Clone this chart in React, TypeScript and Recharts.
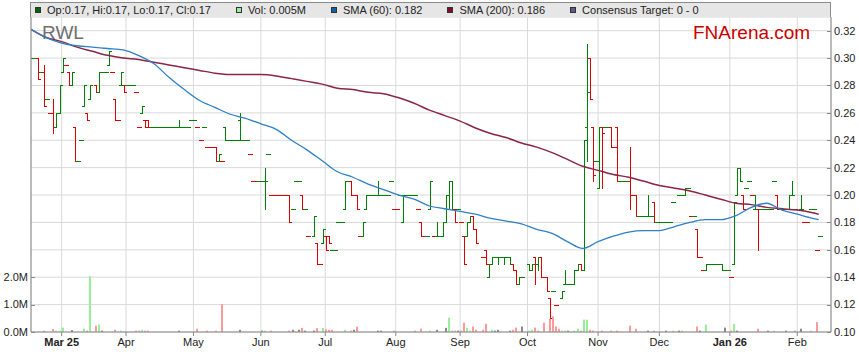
import React from "react";
import { ComposedChart, Bar, Line, XAxis, YAxis, CartesianGrid, Legend } from "recharts";

const FONT = "'Liberation Sans', Arial, sans-serif";
const GREEN = "#008000";
const RED = "#dd0000";

// x = weekday index counted from Mon 17 Feb 2025
const monthTicks = [10, 31, 53, 75, 96, 119, 140, 162, 185, 205, 228, 250];
const monthLabels = ["Mar 25", "Apr", "May", "Jun", "Jul", "Aug", "Sep", "Oct", "Nov", "Dec", "Jan 26", "Feb"];
const priceTicks = [0.1, 0.12, 0.14, 0.16, 0.18, 0.2, 0.22, 0.24, 0.26, 0.28, 0.3, 0.32];
const volTicks = [0, 1, 2];

// [day, open, high, low, close, direction]
const ohlcBars = [
  [2, .30, .30, .285, .285, -1], [4, .29, .295, .265, .265, -1], [7, .26, .27, .245, .25, -1],
  [8, .25, .26, .25, .26, 1], [9, .26, .28, .26, .28, 1], [10, .29, .30, .29, .30, 1],
  [12, .29, .29, .28, .28, -1], [13, .28, .29, .28, .29, 1], [14, .25, .25, .225, .225, -1],
  [17, .265, .28, .265, .28, 1], [18, .26, .26, .255, .255, -1], [19, .27, .28, .27, .28, 1],
  [21, .28, .28, .275, .275, -1], [22, .275, .29, .275, .29, 1], [25, .295, .305, .295, .305, 1],
  [27, .27, .27, .255, .255, -1], [29, .28, .29, .28, .29, 1], [30, .28, .28, .275, .275, -1],
  [36, .26, .265, .26, .265, 1], [37, .255, .255, .25, .25, -1], [38, .255, .255, .25, .25, -1],
  [48, .25, .255, .25, .25, 1], [60, .235, .235, .225, .225, -1], [61, .225, .23, .225, .23, 1],
  [63, .25, .25, .24, .24, 1], [68, .255, .26, .24, .24, 1], [76, .21, .22, .19, .21, 1],
  [84, .20, .20, .18, .18, -1], [88, .20, .20, .19, .19, -1], [92, .17, .185, .17, .185, 1],
  [93, .165, .165, .15, .15, -1], [95, .165, .175, .165, .175, 1], [96, .17, .17, .16, .16, -1],
  [97, .17, .17, .165, .165, -1], [102, .19, .21, .19, .21, 1], [104, .21, .21, .20, .20, -1],
  [106, .20, .20, .19, .19, -1], [108, .17, .18, .17, .18, 1], [109, .19, .20, .19, .20, 1],
  [113, .20, .21, .20, .20, 1], [121, .18, .20, .18, .20, 1], [127, .18, .18, .17, .17, -1],
  [130, .19, .21, .19, .21, 1], [132, .17, .18, .17, .17, 1], [134, .17, .18, .17, .18, 1],
  [135, .18, .20, .18, .20, 1], [136, .19, .21, .19, .21, 1], [137, .21, .21, .19, .19, 1],
  [138, .19, .19, .18, .18, -1], [141, .17, .17, .15, .15, -1], [142, .17, .18, .17, .18, 1],
  [143, .18, .185, .18, .185, 1], [144, .185, .185, .175, .175, -1], [145, .175, .175, .165, .165, -1],
  [148, .16, .16, .15, .15, -1], [149, .14, .15, .14, .15, 1], [150, .15, .155, .15, .155, 1],
  [152, .155, .155, .15, .155, 1], [154, .155, .155, .15, .155, 1], [156, .155, .155, .15, .15, 1],
  [157, .15, .15, .145, .145, -1], [158, .145, .145, .135, .135, -1], [159, .135, .14, .135, .14, 1],
  [162, .15, .15, .145, .145, 1], [163, .145, .15, .145, .15, 1], [164, .155, .155, .135, .15, -1],
  [165, .15, .155, .145, .155, 1], [166, .155, .155, .14, .14, -1], [168, .14, .14, .13, .13, -1],
  [169, .125, .125, .11, .11, -1], [173, .125, .13, .125, .13, 1], [174, .135, .145, .135, .135, 1],
  [177, .135, .145, .135, .145, 1], [178, .145, .15, .145, .15, 1], [179, .15, .15, .145, .145, -1],
  [180, .145, .24, .145, .24, 1], [181, .25, .31, .225, .275, 1], [182, .30, .30, .27, .27, -1],
  [183, .25, .25, .21, .215, -1], [185, .205, .25, .205, .25, 1], [186, .25, .25, .205, .245, -1],
  [189, .25, .25, .235, .235, -1], [191, .25, .25, .21, .21, -1], [195, .21, .235, .19, .20, -1],
  [197, .20, .20, .185, .185, -1], [201, .185, .20, .185, .185, 1], [203, .195, .195, .18, .18, -1],
  [213, .20, .205, .20, .205, 1], [217, .175, .175, .155, .155, -1], [220, .145, .15, .145, .15, 1],
  [225, .15, .15, .145, .145, 1], [229, .15, .195, .15, .195, 1], [230, .20, .22, .20, .22, 1],
  [231, .22, .22, .21, .21, 1], [232, .20, .20, .19, .19, -1], [236, .19, .20, .19, .19, 1],
  [237, .19, .19, .16, .19, -1], [243, .20, .20, .19, .19, -1], [247, .19, .20, .19, .20, 1],
  [248, .20, .21, .20, .20, 1], [251, .19, .20, .19, .19, 1],
];

// days that traded at one price: [day, price, direction]
const flatBars = [
  [0, .30, 1], [1, .30, 1], [3, .29, 1], [5, .27, 1], [6, .26, -1], [11, .295, -1], [15, .225, 1],
  [16, .24, 1], [23, .29, 1], [24, .29, 1], [26, .29, -1], [28, .255, -1], [31, .28, 1], [32, .28, 1],
  [33, .28, 1], [34, .275, -1], [35, .25, -1], [39, .25, 1], [40, .25, 1], [41, .25, 1], [42, .25, 1],
  [43, .25, 1], [44, .25, 1], [45, .25, 1], [46, .25, 1], [47, .25, 1], [49, .25, 1], [50, .25, 1],
  [51, .25, 1], [52, .255, 1], [53, .255, 1], [54, .25, -1], [55, .24, -1], [56, .25, 1], [57, .235, -1],
  [58, .235, -1], [59, .235, -1], [62, .225, -1], [64, .24, 1], [65, .24, 1], [66, .24, 1], [67, .24, 1],
  [69, .24, 1], [70, .24, 1], [71, .23, -1], [72, .21, -1], [73, .21, -1], [74, .21, 1], [75, .21, 1],
  [77, .23, 1], [78, .20, -1], [79, .20, -1], [80, .20, -1], [81, .20, -1], [82, .20, -1], [83, .20, -1],
  [85, .19, 1], [86, .21, 1], [87, .21, 1], [89, .19, 1], [90, .17, -1], [94, .15, -1], [98, .16, 1],
  [99, .16, 1], [100, .18, 1], [101, .18, 1], [103, .21, 1], [105, .20, -1], [107, .17, -1], [110, .20, 1],
  [111, .20, 1], [112, .20, 1], [114, .20, 1], [115, .20, 1], [116, .20, 1], [117, .21, 1], [118, .19, -1],
  [119, .19, -1], [120, .20, 1], [122, .20, 1], [123, .20, 1], [124, .20, 1], [125, .20, 1], [126, .19, -1],
  [128, .17, -1], [129, .17, 1], [131, .17, -1], [133, .17, 1], [139, .19, 1], [140, .18, -1],
  [147, .155, -1], [151, .155, 1], [153, .155, 1], [155, .155, 1], [160, .14, 1], [167, .14, -1],
  [170, .13, 1], [171, .12, -1], [175, .135, 1], [176, .135, 1], [184, .225, 1], [187, .25, 1],
  [188, .25, 1], [190, .235, -1], [192, .21, 1], [193, .21, 1], [194, .21, 1], [196, .20, -1],
  [198, .185, 1], [199, .185, 1], [200, .185, 1], [202, .185, 1], [204, .18, 1], [205, .18, 1],
  [206, .18, 1], [207, .18, 1], [208, .18, 1], [209, .195, 1], [211, .20, 1], [212, .20, 1],
  [214, .205, 1], [215, .185, -1], [216, .185, 1], [218, .155, -1], [219, .145, -1], [221, .15, 1],
  [222, .15, 1], [223, .15, 1], [224, .15, 1], [226, .145, 1], [227, .145, 1], [228, .14, -1],
  [233, .205, 1], [234, .21, 1], [235, .20, -1], [238, .19, 1], [239, .19, 1], [240, .19, 1],
  [241, .19, 1], [242, .21, 1], [244, .19, 1], [245, .19, 1], [246, .19, 1], [249, .19, -1],
  [252, .18, -1], [253, .18, -1], [254, .19, 1], [255, .19, 1], [256, .16, -1], [257, .17, 1],
];

// [day, volume in millions, direction (1 up, -1 down, 0 unchanged)]
const volumes = [
  [4, .05, -1], [7, .11, -1], [8, .05, 1], [9, .05, 1], [10, .16, 1], [13, .07, 0], [17, .12, 1],
  [18, .05, -1], [19, 2.04, 1], [21, .23, -1], [22, .27, 1], [23, .05, 0], [27, .08, -1], [29, .05, 1],
  [34, .05, -1], [35, .05, -1], [36, .08, 1], [37, .05, -1], [38, .05, -1], [48, .05, 0], [54, .12, -1],
  [57, .05, -1], [60, .05, -1], [62, 1.02, -1], [68, .08, 0], [75, .05, 0], [76, .05, 1], [78, .05, -1],
  [84, .05, -1], [85, .08, 0], [87, .08, 0], [88, .15, -1], [89, .05, 0], [92, .05, 0], [93, .14, -1],
  [95, .15, 1], [96, .1, -1], [97, .08, -1], [98, .08, -1], [102, .08, 1], [104, .05, -1], [105, .08, 0],
  [106, .19, -1], [113, .05, 0], [114, .05, 0], [118, .05, -1], [125, .05, -1], [127, .12, -1],
  [130, .05, 1], [132, .08, 0], [135, .15, 0], [136, .52, 1], [137, .05, 1], [138, .05, -1], [139, .05, 0],
  [140, .05, -1], [141, .34, -1], [142, .15, 1], [143, .05, 1], [144, .2, -1], [145, .08, -1],
  [147, .08, -1], [148, .3, -1], [150, .08, 1], [151, .05, 0], [152, .08, 0], [156, .05, 0],
  [157, .08, -1], [158, .16, -1], [160, .2, 0], [162, .05, 1], [163, .08, 1], [164, .16, -1],
  [165, .05, -1], [167, .34, -1], [169, .48, -1], [170, .57, -1], [171, .2, -1], [172, .12, -1],
  [173, .05, 1], [174, .05, 1], [175, .05, 0], [177, .05, 1], [178, .12, 1], [179, .05, -1],
  [180, .45, 1], [181, .45, 1], [182, .08, -1], [183, .05, -1], [186, .05, -1], [189, .05, -1],
  [191, .05, -1], [195, .23, -1], [197, .12, -1], [201, .05, 0], [203, .05, -1], [207, .05, 0],
  [209, .05, 1], [211, .05, 0], [212, .05, 1], [217, .2, -1], [218, .05, 0], [220, .27, 1],
  [226, .16, 0], [228, .05, -1], [229, .3, 1], [230, .05, 0], [237, .12, -1], [240, .05, 0],
  [242, .05, 1], [246, .05, 0], [249, .05, -1], [251, .12, 0], [254, .05, 1], [256, .36, -1],
  [257, .005, 1],
];

const smaDays = [0, 5, 10, 15, 20, 25, 30, 35, 40, 45, 50, 55, 60, 65, 70, 75, 80, 85, 90, 95, 100, 105,
  110, 115, 120, 125, 130, 135, 140, 145, 150, 155, 160, 165, 170, 175, 180, 185, 190, 195, 200, 205, 210,
  215, 220, 225, 230, 235, 240, 245, 250, 255, 257];
const sma60 = [.321, .315, .311, .309, .308, .307, .306, .302, .296, .286, .277, .269, .264, .259, .256,
  .252, .248, .240, .233, .225, .217, .213, .208, .204, .200, .197, .192, .190, .188, .186, .183, .181,
  .179, .175, .172, .166, .161, .166, .170, .173, .174, .174, .177, .180, .182, .182, .185, .191, .194,
  .189, .186, .183, .182];
const sma200 = [.321, .315, .312, .308, .305, .302, .300, .299, .297, .295, .293, .291, .289, .288, .288,
  .288, .287, .285, .283, .281, .278, .277, .275, .274, .271, .267, .262, .258, .254, .249, .245, .242,
  .238, .235, .231, .226, .221, .218, .215, .213, .210, .207, .205, .203, .200, .197, .194, .193, .191,
  .190, .189, .187, .186];

const legendItems = [
  { label: "Op:0.17, Hi:0.17, Lo:0.17, Cl:0.17", color: "#006400" },
  { label: "Vol: 0.005M", color: "#99ee99" },
  { label: "SMA (60): 0.182", color: "#0f64a8" },
  { label: "SMA (200): 0.186", color: "#7a1030" },
  { label: "Consensus Target: 0 - 0", color: "#5c5c8c" },
];

type Row = {
  i: number;
  range: number[] | null;
  ohlc: number[] | null;
  vol: number | null;
  volDir: number;
  sma60: number | null;
  sma200: number | null;
};

const rows: Row[] = Array.from({ length: 262 }, (_, i) => ({
  i, range: null, ohlc: null, vol: null, volDir: 0, sma60: null, sma200: null,
}));
ohlcBars.forEach(([d, o, h, l, c, dir]) => {
  rows[d].range = [l, h];
  rows[d].ohlc = [o, h, l, c, dir];
});
flatBars.forEach(([d, p, dir]) => {
  rows[d].range = [p, p];
  rows[d].ohlc = [p, p, p, p, dir];
});
volumes.forEach(([d, v, dir]) => {
  rows[d].vol = v;
  rows[d].volDir = dir;
});
smaDays.forEach((d, k) => {
  rows[d].sma60 = sma60[k];
  rows[d].sma200 = sma200[k];
});

function OhlcShape(props: any) {
  const { x, y, width, height, payload } = props;
  const bar = payload && payload.ohlc;
  if (!bar || !Number.isFinite(x) || !Number.isFinite(y)) return null;
  const [o, h, l, c, dir] = bar;
  const top = Math.min(y, y + height);
  const bottom = Math.max(y, y + height);
  const toY = (v: number) => Math.round(h === l ? top : bottom - ((v - l) / (h - l)) * (bottom - top));
  const cx = Math.round(x + width / 2 + 1);
  const color = dir > 0 ? GREEN : RED;
  const yh = toY(h);
  const yl = toY(l);
  return (
    <g fill={color}>
      <rect x={cx} y={yh} width={1} height={yl - yh + 1} />
      <rect x={cx - 2} y={toY(o)} width={2} height={1} />
      <rect x={cx + 1} y={toY(c)} width={2} height={1} />
    </g>
  );
}

function VolumeShape(props: any) {
  const { x, y, width, height, payload } = props;
  if (!payload || payload.vol == null || !Number.isFinite(x) || !Number.isFinite(y)) return null;
  const cx = Math.round(x + width / 2);
  const fill = payload.volDir > 0 ? "#99ee99" : payload.volDir < 0 ? "#ff9a9a" : "#8a8a8a";
  const top = Math.min(y, y + height);
  return <rect x={cx - 1} y={top} width={2} height={Math.max(Math.abs(height), 0.6)} fill={fill} />;
}

function PriceTick(props: any) {
  const { x, y, payload } = props;
  const ty = Math.round(y) + 0.5;
  return (
    <g>
      <line x1={x - 7} x2={x - 3} y1={ty} y2={ty} stroke="#888" />
      <text x={x} y={y} dy="0.35em" fontSize={11} fill="#222" fontFamily={FONT} textAnchor="start">
        {payload.value.toFixed(2)}
      </text>
    </g>
  );
}

function VolTick(props: any) {
  const { x, y, payload } = props;
  const ty = Math.round(y) + 0.5;
  return (
    <g>
      <line x1={x + 3} x2={x + 7} y1={ty} y2={ty} stroke="#888" />
      <text x={x} y={y} dy="0.35em" fontSize={11} fill="#222" fontFamily={FONT} textAnchor="end">
        {payload.value.toFixed(1)}M
      </text>
    </g>
  );
}

function MonthTick(props: any) {
  const { x, y, payload } = props;
  const label = monthLabels[monthTicks.indexOf(payload.value)] ?? "";
  const bold = /\d/.test(label);
  return (
    <text x={x} y={y} dy="0.71em" fontSize={11} fill="#222" fontFamily={FONT} textAnchor="middle"
      fontWeight={bold ? "bold" : "normal"}>
      {label}
    </text>
  );
}

function LegendBand() {
  return (
    <div
      style={{
        boxSizing: "border-box",
        height: 15,
        width: 801,
        background: "#e6e6e6",
        borderTop: "1px solid #8a8a8a",
        borderLeft: "1px solid #8a8a8a",
        borderRight: "1px solid #8a8a8a",
        display: "flex",
        alignItems: "center",
        paddingLeft: 4,
        fontFamily: FONT,
        fontSize: 11,
        color: "#222",
        whiteSpace: "nowrap",
      }}
    >
      {legendItems.map((it) => (
        <span key={it.label} style={{ display: "flex", alignItems: "center", marginRight: 25 }}>
          <span
            style={{
              display: "inline-block",
              boxSizing: "border-box",
              width: 6,
              height: 6,
              background: it.color,
              border: "1px solid #333",
              marginRight: 6,
            }}
          />
          {it.label}
        </span>
      ))}
    </div>
  );
}

export default function App() {
  return (
    <div style={{ position: "absolute", left: 0, top: 0, width: 859, height: 363, background: "#fff" }}>
      <ComposedChart width={859} height={363} data={rows} margin={{ top: 2, right: 0, bottom: 0, left: 0 }} barGap={0}>
        <CartesianGrid yAxisId="price" stroke="#d9d9d9" />
        <XAxis
          dataKey="i"
          type="number"
          domain={[0, 261]}
          ticks={monthTicks}
          interval={0}
          allowDataOverflow
          height={31}
          tickSize={4}
          tickMargin={2}
          stroke="#888"
          tick={<MonthTick />}
        />
        <YAxis
          yAxisId="vol"
          orientation="left"
          width={31}
          domain={[0, 11.5]}
          ticks={volTicks}
          interval={0}
          allowDataOverflow
          tickLine={false}
          tickSize={0}
          tickMargin={3}
          stroke="#888"
          tick={<VolTick />}
        />
        <YAxis
          yAxisId="price"
          orientation="right"
          width={28}
          domain={[0.1, 0.33]}
          ticks={priceTicks}
          interval={0}
          allowDataOverflow
          tickLine={false}
          tickSize={0}
          tickMargin={3}
          stroke="#888"
          tick={<PriceTick />}
        />
        <Legend
          verticalAlign="top"
          align="left"
          content={() => <LegendBand />}
          wrapperStyle={{ left: 30, top: 2, width: 801, height: 15 }}
        />
        <Bar yAxisId="price" dataKey="range" barSize={1} shape={<OhlcShape />} isAnimationActive={false} />
        <Bar yAxisId="vol" dataKey="vol" barSize={1} shape={<VolumeShape />} isAnimationActive={false} />
        <Line yAxisId="price" dataKey="sma200" type="monotone" stroke="#8b2548" strokeWidth={1.5}
          dot={false} activeDot={false} connectNulls isAnimationActive={false} />
        <Line yAxisId="price" dataKey="sma60" type="monotone" stroke="#2f80c4" strokeWidth={1.3}
          dot={false} activeDot={false} connectNulls isAnimationActive={false} />
        <text x={42} y={39} fontSize={19} fill="#707070" fontFamily={FONT}>RWL</text>
        <text x={693} y={39} fontSize={19} fill="#cc0000" fontFamily={FONT}>FNArena.com</text>
      </ComposedChart>
    </div>
  );
}
